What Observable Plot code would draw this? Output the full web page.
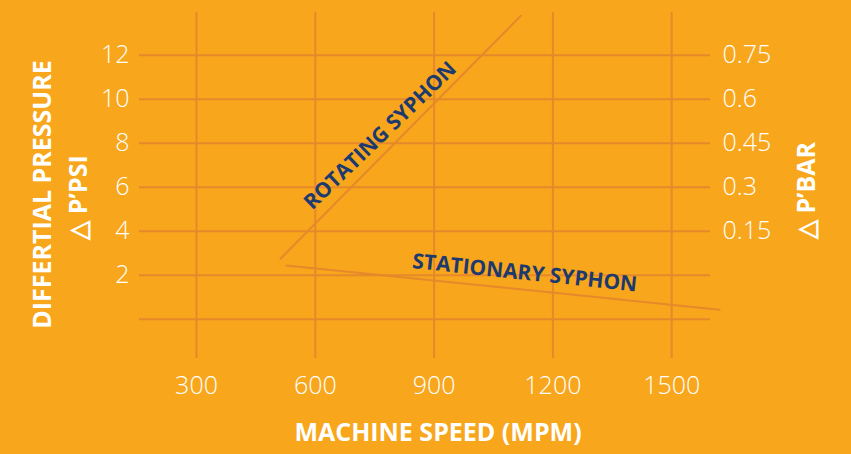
<!DOCTYPE html>
<html><head><meta charset="utf-8">
<script src="https://cdn.jsdelivr.net/npm/d3@7"></script>
<script src="https://cdn.jsdelivr.net/npm/@observablehq/plot@0.6"></script>
<style>
html,body{margin:0;padding:0;background:#F8A61C;overflow:hidden;}
</style></head><body><div id="chart"></div>
<script>
// ---- data ----
const speedTicks = [300, 600, 900, 1200, 1500];
const psiTicks = [2, 4, 6, 8, 10, 12];
const psiGrid = [0, 2, 4, 6, 8, 10, 12];
const barTickPsi = [4, 6, 8, 10, 12];
const barTickLabels = ["0.15", "0.3", "0.45", "0.6", "0.75"];
const rotatingSpeed = [512, 1119];
const rotatingPsi = [2.75, 13.8];
const stationarySpeed = [527, 1621];
const stationaryPsi = [2.44, 0.43];
const seriesNames = ["ROTATING SYPHON", "STATIONARY SYPHON"];
const seriesLabelSpeed = [764, 1129];
const seriesLabelPsi = [8.35, 2.1];

// ---- derived tables ----
const rotating = rotatingSpeed.map((s, i) => ({speed: s, psi: rotatingPsi[i]}));
const stationary = stationarySpeed.map((s, i) => ({speed: s, psi: stationaryPsi[i]}));
const seriesLabels = seriesNames.map((n, i) => ({name: n, speed: seriesLabelSpeed[i], psi: seriesLabelPsi[i]}));
const barMap = new Map(barTickPsi.map((p, i) => [p, barTickLabels[i]]));

const bg = "#F8A61C";
const grid = "#E5892A";
const navy = "#1C3A6E";

const chart = Plot.plot({
  width: 851,
  height: 454,
  marginLeft: 139,
  marginRight: 141,
  marginTop: 12,
  marginBottom: 96,
  style: {background: bg, color: "white", fontFamily: "'Open Sans', sans-serif", overflow: "visible"},
  x: {domain: [156, 1598]},
  y: {domain: [-1.79, 13.95]},
  marks: [
    Plot.ruleX(speedTicks, {stroke: grid, strokeWidth: 2}),
    Plot.ruleY(psiGrid, {stroke: grid, strokeWidth: 2}),
    Plot.line(rotating, {x: "speed", y: "psi", stroke: grid, strokeWidth: 2}),
    Plot.line(stationary, {x: "speed", y: "psi", stroke: grid, strokeWidth: 2}),
    Plot.text(seriesLabels.slice(0, 1), {x: "speed", y: "psi", text: "name", rotate: -44, fill: navy, fontWeight: 700, fontSize: 21}),
    Plot.text(seriesLabels.slice(1), {x: "speed", y: "psi", text: "name", rotate: 6, fill: navy, fontWeight: 700, fontSize: 21}),
    Plot.axisX(speedTicks, {tickSize: 0, tickPadding: 18, fontSize: 25, fontWeight: 300, fill: "white", label: null, tickFormat: d => String(d)}),
    Plot.axisY(psiTicks, {anchor: "left", tickSize: 0, tickPadding: 10, fontSize: 25, fontWeight: 300, fill: "white", label: null, tickFormat: d => String(d)}),
    Plot.axisY(barTickPsi, {anchor: "right", tickSize: 0, tickPadding: 12, fontSize: 25, fontWeight: 300, fill: "white", label: null, tickFormat: d => barMap.get(d)}),
    Plot.text(["MACHINE SPEED (MPM)"], {frameAnchor: "bottom", textAnchor: "middle", dx: 13, dy: 82, fontSize: 25, fontWeight: 700, fill: "white"}),
    Plot.text(["DIFFERTIAL PRESSURE"], {frameAnchor: "left", textAnchor: "middle", rotate: -90, dx: -96.5, dy: 9, fontSize: 25, fontWeight: 700, fill: "white"}),
    Plot.text(["△ P’PSI"], {frameAnchor: "left", textAnchor: "middle", rotate: -90, dx: -61, dy: 12, fontSize: 25, fontWeight: 700, fill: "white"}),
    Plot.text(["△ P’BAR"], {frameAnchor: "right", textAnchor: "middle", rotate: -90, dx: 96, dy: 5, fontSize: 25, fontWeight: 700, fill: "white"})
  ]
});
document.getElementById("chart").appendChild(chart);
</script></body></html>
